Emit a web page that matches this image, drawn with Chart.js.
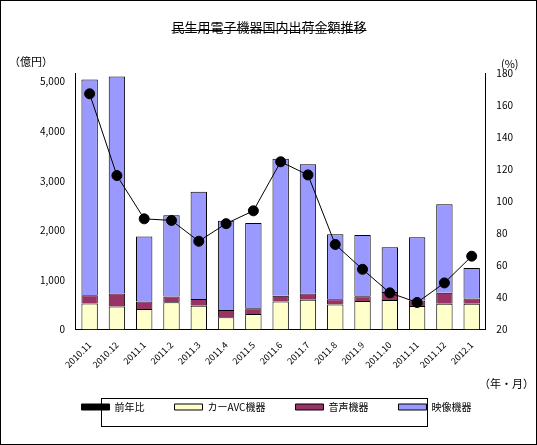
<!DOCTYPE html>
<html>
<head>
<meta charset="utf-8">
<script src="https://cdn.jsdelivr.net/npm/chart.js@4"></script>
<style>
html, body { margin: 0; padding: 0; background: #fff; }
#wrap { width: 535px; height: 443px; border: 1px solid #000; position: relative; }
</style>
</head>
<body>
<div id="wrap"><canvas id="chart" width="535" height="443"></canvas></div>
<script>
const months = ['2010.11','2010.12','2011.1','2011.2','2011.3','2011.4','2011.5','2011.6','2011.7','2011.8','2011.9','2011.10','2011.11','2011.12','2012.1'];
const video = [4355, 4380, 1316, 1640, 2168, 1800, 1723, 2765, 2610, 1312, 1234, 905, 1279, 1783, 614]; // 映像機器
const audio = [168, 259, 149, 115, 135, 148, 116, 117, 123, 103, 97, 161, 110, 226, 109]; // 音声機器
const carAvc = [522, 464, 412, 548, 477, 246, 309, 561, 600, 504, 574, 594, 471, 516, 517]; // カーAVC機器
const yoy = [167, 116, 89, 88, 75, 86, 94, 124.6, 116.4, 73, 57.5, 42.8, 36.8, 49, 65.7]; // 前年比(%)
const leftTicks = [0, 1000, 2000, 3000, 4000, 5000];
const font = "'Noto Sans CJK JP', sans-serif";
Chart.defaults.font.family = font;
Chart.defaults.color = '#000';

const extras = {
	id: 'extras',
	afterDraw(chart) {
		const c = chart.ctx;
		c.save();
		c.fillStyle = '#000';
		c.font = '13px ' + font;
		c.textAlign = 'center';
		c.fillText('民生用電子機器国内出荷金額推移', 268, 26);
		let w = c.measureText('民生用電子機器国内出荷金額推移').width;
		c.fillRect(268 - w / 2, 29, w, 1);
		c.font = '11px ' + font;
		c.textAlign = 'left';
		c.fillText('（億円）', 8, 61);
		c.fillText('(%)', 500, 63);
		c.fillText('（年・月）', 478, 383);
		c.strokeStyle = '#000';
		c.lineWidth = 1;
		c.strokeRect(100.5, 397.5, 326, 28);
		c.restore();
	}
};

new Chart('chart', {
	data: {
		labels: months,
		datasets: [
			{ type: 'bar', label: 'カーAVC機器', data: carAvc, backgroundColor: '#ffffcc', borderColor: '#000', borderWidth: 1, stack: 's', order: 1 },
			{ type: 'bar', label: '音声機器', data: audio, backgroundColor: '#993366', borderColor: '#000', borderWidth: 1, stack: 's', order: 1 },
			{ type: 'bar', label: '映像機器', data: video, backgroundColor: '#9999ff', borderColor: '#000', borderWidth: 1, stack: 's', order: 1 },
			{ type: 'line', label: '前年比', data: yoy, yAxisID: 'y1', borderColor: '#000', backgroundColor: '#000', borderWidth: 1, pointRadius: 5, pointHoverRadius: 5, order: 0 }
		]
	},
	options: {
		responsive: false,
		animation: false,
		layout: { padding: { left: 36, right: 20, top: 72, bottom: 22 } },
		datasets: { bar: { barPercentage: 0.6, categoryPercentage: 1 } },
		plugins: {
			tooltip: { enabled: false },
			legend: {
				position: 'bottom',
				labels: { boxWidth: 28, boxHeight: 6, padding: 30, font: { size: 10 } }
			}
		},
		scales: {
			x: {
				stacked: true,
				grid: { display: false },
				border: { color: '#000' },
				ticks: { maxRotation: 45, minRotation: 45, font: { size: 9 }, padding: 2 }
			},
			y: {
				stacked: true,
				min: 0, max: 5175,
				afterBuildTicks: axis => { axis.ticks = leftTicks.map(v => ({ value: v })); },
				grid: { display: false },
				border: { color: '#000' },
				ticks: { font: { size: 10 }, callback: v => v.toLocaleString('en-US') }
			},
			y1: {
				position: 'right',
				min: 20, max: 180,
				grid: { display: false },
				border: { color: '#000' },
				ticks: { stepSize: 20, font: { size: 10 } }
			}
		}
	},
	plugins: [extras]
});
</script>
</body>
</html>
